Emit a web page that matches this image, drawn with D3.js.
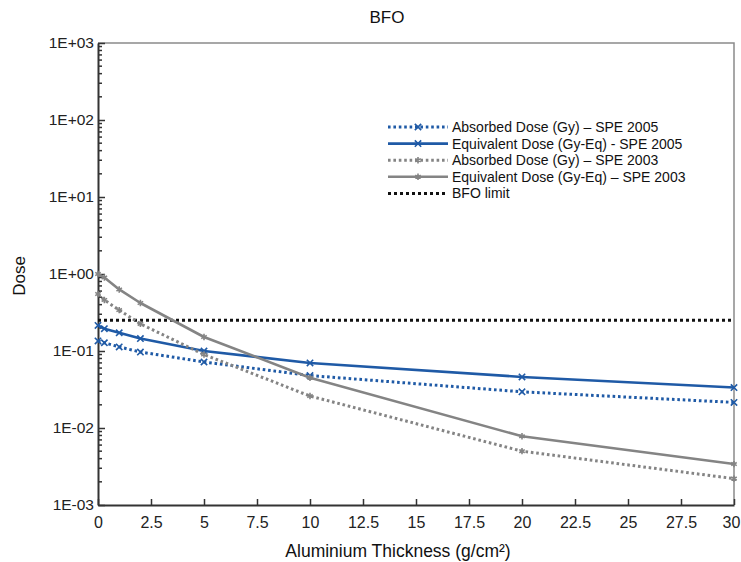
<!DOCTYPE html>
<html>
<head>
<meta charset="utf-8">
<script src="https://cdn.jsdelivr.net/npm/d3@7"></script>
<style>
  html, body { margin: 0; padding: 0; background: #fff; }
  svg { display: block; font-family: "Liberation Sans", Arial, sans-serif; }
</style>
</head>
<body>
<svg id="chart" width="741" height="562"></svg>
<script>
// Aluminium shielding thickness (g/cm²)
const thickness = [0, 0.3, 1, 2, 5, 10, 20, 30];

// Dose series
const absorbed2005   = [0.135, 0.128, 0.113, 0.097, 0.072, 0.048, 0.0295, 0.0215];
const equivalent2005 = [0.215, 0.195, 0.172, 0.145, 0.100, 0.070, 0.0460, 0.0335];
const absorbed2003   = [0.55, 0.46, 0.34, 0.225, 0.090, 0.026, 0.0050, 0.0022];
const equivalent2003 = [1.00, 0.90, 0.63, 0.42, 0.152, 0.045, 0.0078, 0.0034];
const bfoLimit = 0.25;

const seriesNames = [
  "Absorbed Dose (Gy) – SPE 2005",
  "Equivalent Dose (Gy-Eq) - SPE 2005",
  "Absorbed Dose (Gy) – SPE 2003",
  "Equivalent Dose (Gy-Eq) – SPE 2003",
  "BFO limit"
];

const xTicks = [0, 2.5, 5, 7.5, 10, 12.5, 15, 17.5, 20, 22.5, 25, 27.5, 30];
const xTickLabels = ["0", "2.5", "5", "7.5", "10", "12.5", "15", "17.5", "20", "22.5", "25", "27.5", "30"];
const yTicks = [1e-3, 1e-2, 1e-1, 1e0, 1e1, 1e2, 1e3];
const yTickLabels = ["1E-03", "1E-02", "1E-01", "1E+00", "1E+01", "1E+02", "1E+03"];

const BLUE = "#1f5aa6";
const GRAY = "#848484";

const svg = d3.select("#chart");
const plotLeft = 98, plotRight = 734, plotTop = 43, plotBottom = 505;

const x = d3.scaleLinear().domain([0, 30]).range([plotLeft, plotRight]);
const y = d3.scaleLog().domain([1e-3, 1e3]).range([plotBottom, plotTop]);

// Frame (top and right)
svg.append("path")
  .attr("d", `M${plotLeft},${plotTop}H${plotRight}V${plotBottom}`)
  .attr("fill", "none").attr("stroke", "#8a8a8a").attr("stroke-width", 1.5);

// Minor log ticks on the y axis, drawn inward
const minor = [];
for (let e = -3; e < 3; e++) for (let m = 2; m <= 9; m++) minor.push(m * Math.pow(10, e));
svg.append("g").selectAll("line").data(minor).join("line")
  .attr("x1", plotLeft).attr("x2", plotLeft + 4)
  .attr("y1", d => y(d)).attr("y2", d => y(d))
  .attr("stroke", "#333").attr("stroke-width", 1.5);

// Y axis
const yAxis = d3.axisLeft(y).tickValues(yTicks)
  .tickFormat((d, i) => yTickLabels[i]).tickSizeInner(-7).tickSizeOuter(0).tickPadding(4);
const gy = svg.append("g").attr("transform", `translate(${plotLeft},0)`).call(yAxis);
gy.select(".domain").attr("stroke", "#333").attr("stroke-width", 2);
gy.selectAll(".tick line").attr("stroke", "#333").attr("stroke-width", 1.5);
gy.selectAll(".tick text").attr("font-size", 15.5).attr("fill", "#222")
  .attr("font-family", "Liberation Sans, Arial, sans-serif");

// X axis
const xAxis = d3.axisBottom(x).tickValues(xTicks)
  .tickFormat((d, i) => xTickLabels[i]).tickSizeInner(-6).tickSizeOuter(0).tickPadding(12);
const gx = svg.append("g").attr("transform", `translate(0,${plotBottom})`).call(xAxis);
gx.select(".domain").attr("stroke", "#333").attr("stroke-width", 2);
gx.selectAll(".tick line").attr("stroke", "#333").attr("stroke-width", 1.5);
gx.selectAll(".tick text").attr("font-size", 16).attr("fill", "#222")
  .attr("font-family", "Liberation Sans, Arial, sans-serif");
// keep the last label inside the canvas
gx.selectAll(".tick text").filter(d => d === 30).attr("dx", -3);

// Series definitions
const series = [
  { values: absorbed2005,   color: BLUE, dash: "2.6 2.8", width: 3,   symbol: d3.symbolX },
  { values: equivalent2005, color: BLUE, dash: null,      width: 2.6, symbol: d3.symbolX },
  { values: absorbed2003,   color: GRAY, dash: "2.6 2.8", width: 3,   symbol: d3.symbolAsterisk },
  { values: equivalent2003, color: GRAY, dash: null,      width: 2.6, symbol: d3.symbolAsterisk }
];

const line = d3.line()
  .x((d, i) => x(thickness[i]))
  .y(d => y(d));

const plot = svg.append("g");

// BFO limit
plot.append("line")
  .attr("x1", x(0)).attr("x2", x(30))
  .attr("y1", y(bfoLimit)).attr("y2", y(bfoLimit))
  .attr("stroke", "#111").attr("stroke-width", 3).attr("stroke-dasharray", "3 3");

series.forEach(s => {
  plot.append("path")
    .attr("d", line(s.values))
    .attr("fill", "none")
    .attr("stroke", s.color)
    .attr("stroke-width", s.width)
    .attr("stroke-linejoin", "round")
    .attr("stroke-dasharray", s.dash);
  plot.append("g").selectAll("path").data(s.values).join("path")
    .attr("transform", (d, i) => `translate(${x(thickness[i])},${y(d)})`)
    .attr("d", d3.symbol(s.symbol, 28))
    .attr("fill", "none").attr("stroke", s.color).attr("stroke-width", 1.6);
});

// Title
svg.append("text").attr("x", 387).attr("y", 23).attr("text-anchor", "middle")
  .attr("font-size", 17).attr("fill", "#111").text("BFO");

// Axis titles
svg.append("text").attr("x", 398).attr("y", 557).attr("text-anchor", "middle")
  .attr("font-size", 17.5).attr("fill", "#111").text("Aluminium Thickness (g/cm²)");
svg.append("text").attr("transform", "translate(25,276) rotate(-90)")
  .attr("text-anchor", "middle").attr("font-size", 17).attr("fill", "#111").text("Dose");

// Legend
const legendRows = [
  { color: BLUE, dash: "2.6 2.8", width: 3,   symbol: d3.symbolX },
  { color: BLUE, dash: null,      width: 2.6, symbol: d3.symbolX },
  { color: GRAY, dash: "2.6 2.8", width: 3,   symbol: d3.symbolAsterisk },
  { color: GRAY, dash: null,      width: 2.6, symbol: d3.symbolAsterisk },
  { color: "#111", dash: "3 3",   width: 3,   symbol: null }
];
const legend = svg.append("g");
legendRows.forEach((r, i) => {
  const ly = 127 + i * 16.6;
  legend.append("line").attr("x1", 388).attr("x2", 448).attr("y1", ly).attr("y2", ly)
    .attr("stroke", r.color).attr("stroke-width", r.width).attr("stroke-dasharray", r.dash);
  if (r.symbol) {
    legend.append("path").attr("transform", `translate(418,${ly})`)
      .attr("d", d3.symbol(r.symbol, 28))
      .attr("fill", "none").attr("stroke", r.color).attr("stroke-width", 1.6);
  }
  legend.append("text").attr("x", 452).attr("y", ly + 5)
    .attr("font-size", 14).attr("fill", "#111").text(seriesNames[i]);
});
</script>
</body>
</html>
